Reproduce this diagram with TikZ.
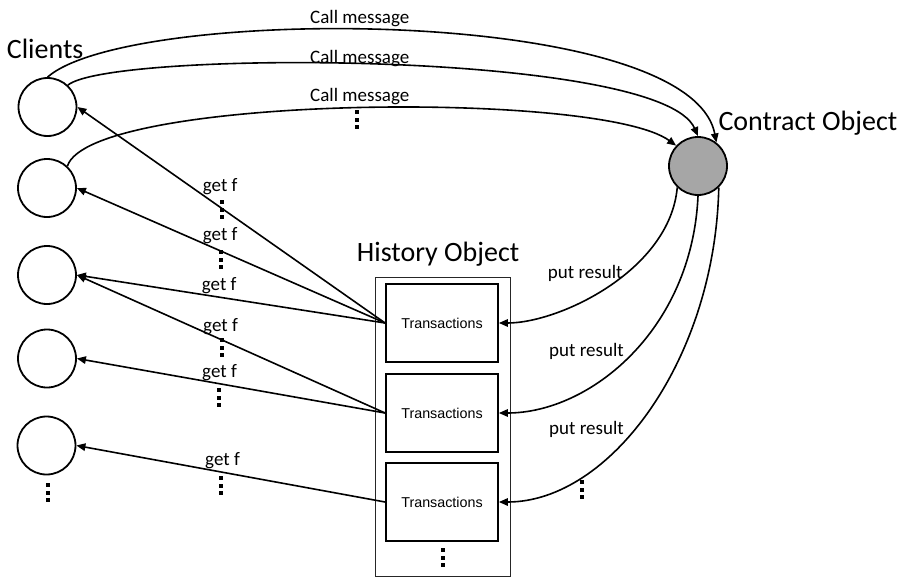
\documentclass[tikz,border=0pt]{standalone}
\usepackage{fontspec}
\setmainfont{Carlito}
\newfontfamily\boxfont{Liberation Sans}
\usetikzlibrary{arrows.meta}
\begin{document}
\begin{tikzpicture}[x=1pt,y=-1pt,
  client/.style={circle, draw, line width=1.8pt, minimum size=58pt, inner sep=0pt},
  contractnode/.style={circle, draw, line width=1.8pt, fill=gray!70, minimum size=58pt, inner sep=0pt},
  histframe/.style={rectangle, draw=black!85, line width=0.9pt, minimum width=135pt, minimum height=299pt, inner sep=0pt},
  txbox/.style={rectangle, draw, line width=1.8pt, minimum width=112pt, minimum height=78pt, inner sep=0pt,
    font=\boxfont\fontsize{14.3}{16}\selectfont},
  biglabel/.style={inner sep=0pt, anchor=base west, font=\fontsize{28}{30}\selectfont},
  smalllabel/.style={inner sep=0pt, anchor=base west, font=\fontsize{19}{21}\selectfont},
  conn/.style={line width=1.6pt, -{Triangle[length=9pt,width=7.5pt]}},
  dotcol/.pic={\foreach \k in {0,7.5,15} \fill (-2,\k) rectangle (2,\k+4.3);}
]
\useasboundingbox (0,0) rectangle (909,578);

% clients
\node[client] (c1) at (47.5,107) {};
\node[client] (c2) at (47,188) {};
\node[client] (c3) at (47,275) {};
\node[client] (c4) at (47,358.5) {};
\node[client] (c5) at (46.5,445.5) {};
\node[biglabel] (clientsLbl) at (6.7,58.3) {Clients};
\pic at (48,483) {dotcol};

% contract object
\node[contractnode] (contract) at (698,166) {};
\node[biglabel] (contractLbl) at (718.3,130) {Contract Object};

% history object with its transaction stores
\node[histframe] (hist) at (442.5,427) {};
\node[biglabel] (histLbl) at (356.7,261.7) {History Object};
\node[txbox] (t1) at (442,323) {Transactions};
\node[txbox] (t2) at (442,413) {Transactions};
\node[txbox] (t3) at (442,502) {Transactions};
\pic at (443,548) {dotcol};

% call messages from clients to the contract
\draw[conn] (c1.north) .. controls (130,5) and (690,5) .. (contract.52);
\draw[conn] (c1.47) .. controls (110,50) and (660,50) .. (contract.north);
\draw[conn] (c2.47) .. controls (90,95) and (600,90) .. (contract.137);
\node[smalllabel] (cm1) at (310,23.3) {Call message};
\node[smalllabel] (cm2) at (310,63.3) {Call message};
\node[smalllabel] (cm3) at (310,101.7) {Call message};
\pic at (357,110) {dotcol};

% results written back into the history
\draw[conn] (contract.226) .. controls (670,270) and (560,323) .. (t1.east);
\draw[conn] (contract.south) .. controls (692,330) and (590,413) .. (t2.east);
\draw[conn] (contract.-46) .. controls (715,360) and (610,502) .. (t3.east);
\node[smalllabel] (pr1) at (547.7,278.3) {put result};
\node[smalllabel] (pr2) at (549,356) {put result};
\node[smalllabel] (pr3) at (549,434.3) {put result};
\pic at (582,480) {dotcol};

% clients reading from the history
\draw[conn] (t1.west) -- (c1.east);
\draw[conn] (t1.west) -- (c2.east);
\draw[conn] (t1.west) -- (c3.east);
\draw[conn] (t2.west) -- (c3.east);
\draw[conn] (t2.west) -- (c4.east);
\draw[conn] (t3.west) -- (c5.east);
\node[smalllabel] (gf1) at (202.7,191.7) {get f};
\node[smalllabel] (gf2) at (202.7,240.7) {get f};
\node[smalllabel] (gf3) at (201.7,290.7) {get f};
\node[smalllabel] (gf4) at (203,331.7) {get f};
\node[smalllabel] (gf5) at (202,377.7) {get f};
\node[smalllabel] (gf6) at (205,465) {get f};
\pic at (222,200) {dotcol};
\pic at (221,250) {dotcol};
\pic at (222,338) {dotcol};
\pic at (219,388) {dotcol};
\pic at (221,476) {dotcol};
\end{tikzpicture}
\end{document}
